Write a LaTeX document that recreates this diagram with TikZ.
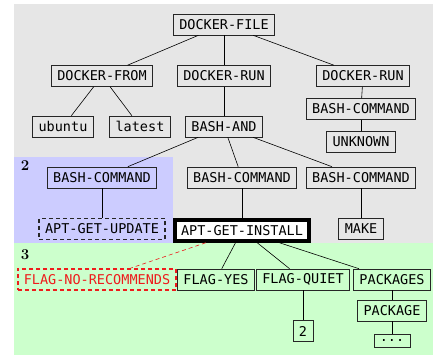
\documentclass[tikz,border=0pt]{standalone}
\usepackage{fontspec}
\newfontfamily\astmono{DejaVu Sans Mono}
\usetikzlibrary{positioning}

\definecolor{bggray}{HTML}{E6E6E6}
\definecolor{bgblue}{HTML}{CCCCFF}
\definecolor{bggreen}{HTML}{CCFFCC}
\definecolor{flagred}{HTML}{EE1C1C}

\tikzset{
  astnode/.style={draw=black!85, line width=0.6pt, inner xsep=6pt, inner ysep=0pt,
    minimum height=21pt, font=\astmono\fontsize{13.5}{15}\selectfont},
  focusnode/.style={astnode, line width=3.5pt, draw=black, fill=white},
  dropnode/.style={astnode, dashed, line width=1.8pt, dash pattern=on 4pt off 3pt},
  removenode/.style={dropnode, draw=flagred, text=flagred},
  edge/.style={draw=black, line width=0.6pt},
  steplabel/.style={font=\bfseries\fontsize{15}{16}\selectfont, inner sep=0pt}
}

\begin{document}
\begin{tikzpicture}[x=1pt, y=-1pt]
  \useasboundingbox (0,0) rectangle (433,356);

  % Regions
  \fill[bggray] (14,4) rectangle (433,243);
  \fill[bgblue] (14,157) rectangle (173,243);
  \fill[bggreen] (14,243) rectangle (433,355);
  \node[steplabel] (lbltwo) at (25,166) {2};
  \node[steplabel] (lblthree) at (25,255) {3};

  % Tree
  \node[astnode] (file) at (224,24.5) {DOCKER-FILE};
  \node[astnode] (from) at (102,76) {DOCKER-FROM};
  \node[astnode] (runa) at (224,76) {DOCKER-RUN};
  \node[astnode] (runb) at (363,76) {DOCKER-RUN};
  \node[astnode] (ubuntu) at (63,126.5) {ubuntu};
  \node[astnode] (latest) at (140,126.5) {latest};
  \node[astnode] (band) at (224,126.5) {BASH-AND};
  \node[astnode] (cmdr) at (361,109) {BASH-COMMAND};
  \node[astnode] (unknown) at (361,141.5) {UNKNOWN};
  \node[astnode] (cmda) at (102,177.5) {BASH-COMMAND};
  \node[astnode] (cmdb) at (242,177.5) {BASH-COMMAND};
  \node[astnode] (cmdc) at (361,177.5) {BASH-COMMAND};
  \node[dropnode] (update) at (102,229) {APT-GET-UPDATE};
  \node[focusnode] (install) at (242,230.5) {APT-GET-INSTALL};
  \node[astnode] (make) at (361,229) {MAKE};
  \node[removenode] (norec) at (97,279.5) {FLAG-NO-RECOMMENDS};
  \node[astnode] (yes) at (216,279.5) {FLAG-YES};
  \node[astnode] (quiet) at (303,279.5) {FLAG-QUIET};
  \node[astnode] (pkgs) at (392,279.5) {PACKAGES};
  \node[astnode] (pkg) at (392,310.5) {PACKAGE};
  \node[astnode] (two) at (303,331) {2};
  \node[astnode, minimum height=13pt] (more) at (392,340.5) {...};

  % Edges
  \foreach \a/\b in {file/from, file/runa, file/runb, from/ubuntu, from/latest,
      runa/band, runb/cmdr, cmdr/unknown, band/cmda, band/cmdb, band/cmdc,
      cmda/update, cmdb/install, cmdc/make, install/yes, install/quiet,
      install/pkgs, quiet/two, pkgs/pkg, pkg/more}
    \draw[edge] (\a) -- (\b);
  \draw[edge, flagred, dashed, dash pattern=on 4pt off 3pt] (install) -- (norec);
\end{tikzpicture}
\end{document}
